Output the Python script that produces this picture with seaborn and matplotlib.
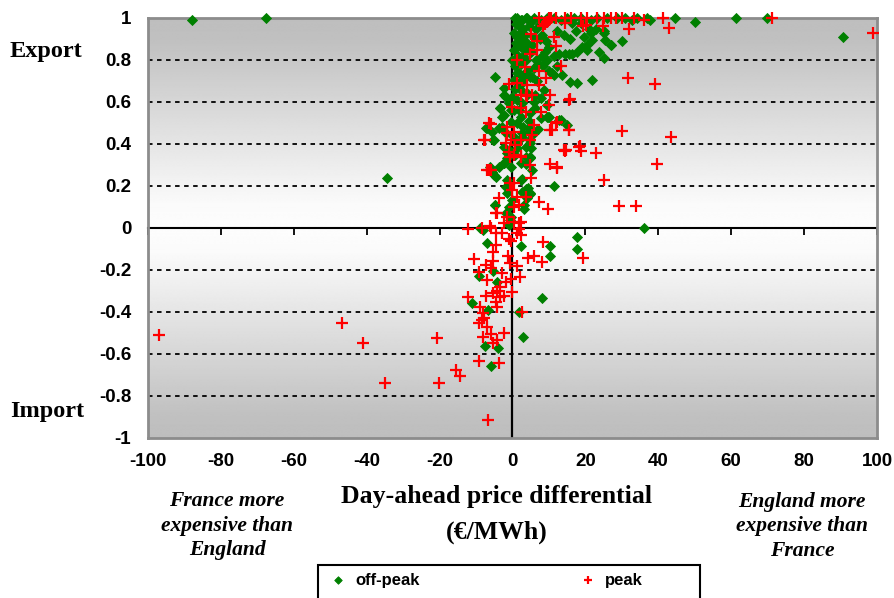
import numpy as np
import pandas as pd
import matplotlib
matplotlib.use("Agg")
import matplotlib.pyplot as plt
from matplotlib.patches import Rectangle
from matplotlib.font_manager import FontProperties
import seaborn as sns

# Day-ahead price differential (EUR/MWh) and normalised interconnector flow
# (+1 = full export to England, -1 = full import to France)
OFF_PEAK_DIFF = [
    -87.8, -67.5, -34.3, 90.7, 61.2, 69.9, 50.2, 44.7, 36.2,
    -8.0, -8.8, -1.0, -6.9, 2.4, 10.2, 17.6, 17.6, 10.2, -5.3,
    -9.2, -4.2, -11.1, -6.7, 8.1, 1.7, 2.9, -7.6, -3.9, -5.8,
    1.1, 2.7, 4.0, 5.9, 7.7, 9.5, 11.3, 13.2, 15.0, 16.8,
    18.7, 21.4, 23.2, 26.0, 28.7, 31.0, 32.8, 34.2, 37.0, 37.7,
    0.8, 2.2, 3.6, 1.7, 1.3, 2.7, 4.0, 2.2, 3.6, 5.4,
    8.1, 9.1, 10.0, 8.1, 9.5, 11.3, 12.7, 14.5, 16.4, 17.7,
    19.1, 20.5, 21.4, 22.8, 20.9, 19.6, 17.3, 15.9, 14.1, 12.3,
    16.4, 18.7, 21.9, 23.7, 25.1, 25.1, 25.5, 26.9, 3.6, 2.2,
    4.0, 5.4, 1.7, 10.0, 11.3, 12.3, -0.1, 13.6, 27.1, 30.1,
    20.5, 15.5, 21.4, 25.0, 1.0, 2.0, 3.0, 4.5, 5.5, 6.5,
    7.5, 0.5, 0.3, 1.5, 5.0, 6.5, 7.0, 8.5, 5.8, 3.0,
    0.8, 1.2,
    -4.9, -2.4, -2.4, -3.3, -2.4, -3.8, -5.6, -5.1, -7.1, -1.0,
    -0.5, -0.1, 0.4, 1.7, 3.1, 4.9, 2.2, 1.3, 2.7, 0.4,
    2.2, 1.3, 4.9, 7.7, 10.0, 9.5, 6.3, 8.6, 10.9, 15.9,
    17.7, 15.0, 12.7, 4.5, 2.7, 4.9, -1.0, 1.3, 5.8, -1.5,
    4.9, 0.8, 21.9, -1.9, -7.4, -5.4, -2.8, 9.7, 13.2,
    -2.4, -3.8, 2.2, 4.0, 3.1, -4.9, -5.6, -6.2, -4.4, -2.4,
    4.8, 3.6, 2.7, -1.3, 11.3, 3.8, 4.9, -4.7, 3.1, -1.9,
    -0.7, -5.1, -2.8, -1.9, -2.4, -1.5, -0.5, -1.5, -1.9, -1.5,
    -0.1, -1.0, -0.5, -3.5, -0.5, 2.2, 3.6, 4.9, 9.5, 4.5,
    2.7, 1.3, 3.6, 4.9, 5.4, 4.2, 2.7, 4.9,
    6.0, 7.5, 3.0, 0.6, 2.5, 4.2, 6.8, 8.8, 0.9, 3.4,
    5.9, 7.9, 1.9, 4.4, 6.2, 0.2, 2.9, 5.1, 7.1, 9.0,
]
OFF_PEAK_FLOW = [
    0.99, 1.0, 0.24, 0.91, 1.0, 1.0, 0.98, 1.0, 0.0,
    -0.01, 0.0, 0.016, -0.073, -0.086, -0.086, -0.041, -0.10, -0.132, -0.203,
    -0.229, -0.256, -0.356, -0.39, -0.332, -0.40, -0.521, -0.562, -0.573, -0.657,
    1.0, 0.99, 1.0, 1.0, 0.99, 1.0, 1.0, 0.99, 1.0, 1.0,
    1.0, 0.99, 1.0, 1.0, 1.0, 1.0, 0.99, 1.0, 1.0, 0.99,
    1.0, 0.99, 1.0, 0.96, 0.91, 0.89, 0.88, 0.86, 0.85, 0.87,
    0.92, 0.89, 0.86, 0.82, 0.80, 0.82, 0.83, 0.83, 0.83, 0.84,
    0.86, 0.87, 0.93, 0.95, 0.95, 0.91, 0.94, 0.90, 0.92, 0.94,
    0.975, 0.975, 0.895, 0.84, 0.81, 0.93, 0.895, 0.87, 0.80, 0.78,
    0.75, 0.72, 0.74, 0.75, 0.73, 0.77, 0.80, 0.73, 0.87, 0.89,
    0.85, 0.83, 0.94, 0.94, 0.97, 0.93, 0.95, 0.96, 0.99, 0.95,
    0.97, 0.85, 0.93, 0.82, 0.84, 0.80, 0.78, 0.77, 0.76, 0.71,
    0.66, 0.74,
    0.72, 0.665, 0.633, 0.57, 0.538, 0.475, 0.459, 0.419, 0.475, 0.594,
    0.506, 0.625, 0.705, 0.689, 0.729, 0.721, 0.657, 0.61, 0.594, 0.562,
    0.53, 0.499, 0.546, 0.522, 0.53, 0.586, 0.633, 0.657, 0.737, 0.697,
    0.689, 0.49, 0.514, 0.459, 0.435, 0.403, 0.371, 0.379, 0.451, 0.332,
    0.332, 0.348, 0.705, 0.625, 0.478, 0.419, 0.53, 0.527, 0.514,
    0.308, 0.292, 0.229, 0.141, 0.11, 0.11, 0.268, 0.292, 0.244, 0.311,
    0.337, 0.305, 0.232, 0.205, 0.201, 0.184, 0.162, 0.11, 0.089, 0.07,
    0.038, 0.252, 0.482, 0.451, 0.387, 0.356, 0.292, 0.229, 0.197, 0.165,
    0.133, 0.101, 0.054, 0.57, 0.562, 0.308, 0.34, 0.34, 0.53, 0.475,
    0.451, 0.403, 0.387, 0.419, 0.276, 0.189, 0.173, 0.165,
    0.91, 0.90, 0.82, 0.77, 0.69, 0.64, 0.70, 0.84, 0.88, 0.92,
    0.60, 0.62, 0.56, 0.51, 0.57, 0.44, 0.48, 0.38, 0.47, 0.79,
]

PEAK_DIFF = [
    -97.1, -46.9, -41.1, -35.0, -20.8, -20.3, -15.4, -14.5, 98.9, 71.1,
    41.2, 36.0, 42.9, 31.9, 31.6, 39.2, 43.5, 30.1, 39.7, 25.1,
    29.2, 34.0, 23.0, 18.4, 18.9, 14.8, 15.7, 15.5, 11.8, 10.4,
    19.4,
    -12.3, -8.3, -6.3, -2.4, 1.7, -4.4, -2.8, 1.3, 2.4, -1.0,
    -0.3, -4.4, 8.4, 4.3, 5.8, 8.0, -5.4, -10.6, -5.4, -7.4,
    -1.3, -0.7, 1.1, -5.8, -9.2, -2.8, -6.9, -1.9, -0.5, 2.0,
    -3.3, -4.2, -5.3, -3.5, -2.4, -0.1, -7.4, -12.3, -4.4, -4.2,
    -8.8, 2.5, -8.0, -7.9, -9.2, -8.3, -6.9, -8.0, -5.8, -2.4,
    -4.2, -5.3, -9.2, -3.6, -6.7,
    14.5, 10.4, 12.1, -7.1, -5.8, -0.8, 2.2, 4.9, 5.1, -0.7,
    0.4, 3.8, 1.3, -3.8, 7.2, 9.7, -4.2, -1.6, 0.4, 2.2,
    -6.0, 1.7, 0.4, 1.7, -0.1, -6.5, -4.4, 18.2, 14.1, 12.3,
    -1.0, 1.3, 4.0, 7.2, 3.6, 5.4, 10.4, 15.5, -0.1, 2.2,
    3.6, 7.7, 10.0, -6.5, -1.5, 5.8, 12.3, 10.9, 15.5, -7.7,
    -1.5, 0.4, 5.4, -0.5, 2.2, 4.9, 0.8, -1.9, -1.0, 0.4,
    2.2, -6.0, -7.6,
    5.2, 6.8, 11.3, 11.8, 6.8, 4.9, 1.3, 13.2, 3.4, 7.2,
    19.4, 24.8, 14.5, 10.6, 10.0, 9.4, 8.8, 8.3, 20.2, 9.1,
    2.2, 4.0,
    7.2, 10.0, 11.8, 14.5, 16.1, 18.7, 20.5, 23.2, 25.1, 26.9,
    28.3, 30.1, 33.3,
]
PEAK_FLOW = [
    -0.51, -0.454, -0.549, -0.74, -0.525, -0.74, -0.676, -0.703, 0.93, 1.0,
    1.0, 0.99, 0.954, 0.946, 0.716, 0.684, 0.432, 0.462, 0.305, 0.229,
    0.106, 0.106, 0.356, 0.392, 0.368, 0.371, 0.613, 0.467, 0.498, 0.467,
    -0.141,
    -0.005, 0.0, 0.01, 0.025, 0.025, -0.022, -0.022, -0.022, -0.033, -0.054,
    -0.06, -0.081, -0.068, -0.141, -0.132, -0.163, -0.116, -0.148, -0.156, -0.176,
    -0.132, -0.165, -0.181, -0.189, -0.208, -0.216, -0.248, -0.256, -0.244, -0.232,
    -0.279, -0.298, -0.311, -0.327, -0.324, -0.303, -0.324, -0.327, -0.351, -0.375,
    -0.375, -0.40, -0.406, -0.43, -0.451, -0.438, -0.47, -0.517, -0.505, -0.502,
    -0.533, -0.546, -0.632, -0.641, -0.914,
    0.367, 0.305, 0.284, 0.276, 0.276, 0.337, 0.343, 0.30, 0.237, 0.216,
    0.213, 0.149, 0.146, 0.141, 0.125, 0.089, 0.073, 0.051, 0.03, 0.03,
    0.0, -0.006, 0.10, 0.11, 0.181, 0.276, 0.07, 0.387, 0.371, 0.289,
    0.686, 0.689, 0.681, 0.681, 0.633, 0.633, 0.633, 0.61, 0.578, 0.57,
    0.554, 0.554, 0.586, 0.499, 0.482, 0.49, 0.506, 0.467, 0.467, 0.419,
    0.451, 0.459, 0.443, 0.419, 0.419, 0.419, 0.395, 0.403, 0.363, 0.348,
    0.34, 0.495, 0.419,
    0.924, 0.892, 0.911, 0.867, 0.848, 0.829, 0.80, 0.771, 0.768, 0.748,
    0.962, 0.962, 0.978, 1.0, 0.99, 0.98, 0.97, 0.96, 0.967, 0.713,
    0.633, 0.629,
    1.0, 1.0, 1.0, 1.0, 1.0, 1.0, 1.0, 1.0, 1.0, 1.0,
    1.0, 1.0, 1.0,
]

X_TICKS = [-100, -80, -60, -40, -20, 0, 20, 40, 60, 80, 100]
Y_TICKS = [-1, -0.8, -0.6, -0.4, -0.2, 0, 0.2, 0.4, 0.6, 0.8, 1]
GRID_LEVELS = [-0.8, -0.6, -0.4, -0.2, 0.2, 0.4, 0.6, 0.8]

assert len(OFF_PEAK_DIFF) == len(OFF_PEAK_FLOW)
assert len(PEAK_DIFF) == len(PEAK_FLOW)

off_peak = pd.DataFrame({"diff": OFF_PEAK_DIFF, "flow": OFF_PEAK_FLOW})
peak = pd.DataFrame({"diff": PEAK_DIFF, "flow": PEAK_FLOW})

W, H = 895, 598
fig = plt.figure(figsize=(W / 100, H / 100), dpi=100)
fig.patch.set_facecolor("white")
ax = fig.add_axes([148 / W, 1 - 438 / H, (877 - 148) / W, (438 - 18) / H])

# grey-white-grey vertical background gradient
levels = np.linspace(-1, 1, 500)
shade = np.interp(np.abs(levels), [0, 0.12, 0.9, 1.0], [253, 250, 192, 190]) / 255
ax.imshow(np.repeat(shade[:, None], 2, axis=1), cmap="gray", vmin=0, vmax=1,
          extent=[-100, 100, -1, 1], origin="lower", aspect="auto",
          interpolation="bilinear", zorder=0)

for lvl in GRID_LEVELS:
    ax.axhline(lvl, color="black", lw=1.3, ls=(0, (2.5, 2.5)), zorder=1)

ax.axvline(0, color="black", lw=1.6, zorder=2)

sns.scatterplot(data=off_peak, x="diff", y="flow", ax=ax, marker="D", s=26,
                color="#008000", edgecolor="#008000", linewidth=0.6,
                clip_on=False, zorder=3, legend=False)
sns.scatterplot(data=peak, x="diff", y="flow", ax=ax, marker="+", s=66,
                color="#ff0000", linewidth=1.6,
                clip_on=False, zorder=4, legend=False)
green_handle, red_handle = ax.collections[0], ax.collections[1]

ax.set_xlim(-100, 100)
ax.set_ylim(-1, 1)
ax.set_xlabel("")
ax.set_ylabel("")
ax.set_xticks(X_TICKS)
ax.set_xticklabels([f"{v:d}" for v in X_TICKS])
ax.set_yticks(Y_TICKS)
ax.set_yticklabels([f"{v:g}" for v in Y_TICKS])
tick_font = FontProperties(family="Liberation Sans", weight="bold", size=13.5)
for lab in ax.get_xticklabels() + ax.get_yticklabels():
    lab.set_fontproperties(tick_font)
ax.tick_params(axis="both", length=0)
ax.tick_params(axis="x", pad=11)
ax.tick_params(axis="y", pad=12)
for sp in ax.spines.values():
    sp.set_color("#8c8c8c")
    sp.set_linewidth(2)

# horizontal axis crossing at zero flow, with outward ticks
zero_axis = ax.secondary_xaxis(0.5)
zero_axis.set_alignment("bottom")
zero_axis.set_xticks(X_TICKS)
zero_axis.tick_params(axis="x", direction="out", length=5, width=1.3,
                      color="black", labelbottom=False, labeltop=False)
zero_axis.spines["bottom"].set_color("black")
zero_axis.spines["bottom"].set_linewidth(1.5)
zero_axis.set_zorder(2)

serif_bold = dict(family="Liberation Serif", weight="bold")
fig.text(10 / W, 1 - 52 / H, "Export", ha="left", va="center", size=17.5, **serif_bold)
fig.text(10 / W, 1 - 412 / H, "Import", ha="left", va="center", size=17.5, **serif_bold)

fig.text(497 / W, 1 - 497 / H, "Day-ahead price differential", ha="center",
         va="center", size=18.5, **serif_bold)
fig.text(497 / W, 1 - 532 / H, "(€/MWh)", ha="center", va="center", size=18.5,
         **serif_bold)

side = dict(ha="center", va="center", size=15.5, style="italic",
            linespacing=1.3, **serif_bold)
fig.text(227 / W, 1 - 526 / H, "France more\nexpensive than\nEngland", **side)
fig.text(802 / W, 1 - 526 / H, "England more\nexpensive than\nFrance", **side)

# legend box along the bottom edge
fig.add_artist(Rectangle((318 / W, -3 / H), (700 - 318) / W, (598 - 565 + 3) / H,
                         transform=fig.transFigure, fill=False,
                         edgecolor="black", linewidth=1.5))
leg_font = FontProperties(family="Liberation Sans", weight="bold", size=12)
leg_kw = dict(loc="center left", frameon=False, prop=leg_font, handlelength=1.0,
              handletextpad=0.5, borderpad=0, borderaxespad=0, markerscale=0.75)
fig.legend([green_handle], ["off-peak"], bbox_to_anchor=(330 / W, 1 - 580 / H), **leg_kw)
fig.legend([red_handle], ["peak"], bbox_to_anchor=(580 / W, 1 - 580 / H), **leg_kw)

fig.savefig("out.png", dpi=100)
